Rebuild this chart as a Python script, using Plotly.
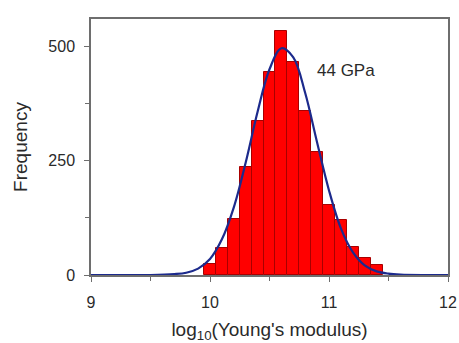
import plotly.graph_objects as go

# Histogram bins (centres, log10 Pa) and counts
bin_centers = [10.0, 10.1, 10.2, 10.3, 10.4, 10.5, 10.6, 10.7, 10.8, 10.9,
               11.0, 11.1, 11.2, 11.3, 11.4]
bin_counts = [25, 60, 122, 236, 336, 443, 533, 465, 358, 268,
              153, 120, 61, 37, 22]
bin_width = 0.1

# Fitted curve
curve_x = [9.0, 9.5, 9.7, 9.8, 9.9, 10.0, 10.1, 10.2, 10.3, 10.4, 10.5, 10.6,
           10.7, 10.8, 10.9, 11.0, 11.1, 11.2, 11.3, 11.4, 11.5, 11.6, 11.8, 12.0]
curve_y = [0, 0, 2, 5, 14, 35, 78, 148, 246, 357, 450, 496,
           476, 398, 290, 185, 102, 50, 21, 8, 3, 1, 0, 0]

annotation_text = "44 GPa"
x_title = "log<sub>10</sub>(Young's modulus)"
y_title = "Frequency"
x_ticks = [9, 10, 11, 12]
y_ticks = [0, 250, 500]

FONT = "Liberation Sans, Arial, sans-serif"
TXT = "#2a2a2a"
AX = "#6e6e6e"

fig = go.Figure()
fig.add_trace(go.Bar(
    x=bin_centers, y=bin_counts, width=bin_width,
    marker=dict(color="#ff0000", line=dict(color="#a80000", width=1)),
    showlegend=False,
))
fig.add_trace(go.Scatter(
    x=curve_x, y=curve_y, mode="lines",
    line=dict(color="#1c2a8c", width=2.2, shape="spline"),
    showlegend=False,
))
fig.add_annotation(x=11.14, y=448, text=annotation_text, showarrow=False,
                   font=dict(family=FONT, size=17, color=TXT))

fig.update_layout(
    width=459, height=343,
    margin=dict(l=91, r=11, t=19, b=68),
    paper_bgcolor="white", plot_bgcolor="white",
    bargap=0,
    font=dict(family=FONT, color=TXT, size=16),
)
fig.update_xaxes(
    range=[9, 12], tickvals=x_ticks, ticktext=[str(v) for v in x_ticks],
    ticks="outside", ticklen=5, tickcolor=AX, ticklabelstandoff=7,
    minor=dict(dtick=0.5, ticks="outside", ticklen=4, tickcolor=AX),
    showline=True, linecolor=AX, linewidth=1.5, mirror=True,
    showgrid=False, zeroline=False, automargin=False,
    tickfont=dict(size=16),
    title=dict(text=x_title, font=dict(size=19), standoff=14),
)
fig.update_yaxes(
    range=[0, 560], tickvals=y_ticks, ticktext=[str(v) for v in y_ticks],
    ticks="outside", ticklen=5, tickcolor=AX, ticklabelstandoff=6,
    minor=dict(dtick=125, ticks="outside", ticklen=4, tickcolor=AX),
    showline=True, linecolor=AX, linewidth=1.5, mirror=True,
    showgrid=False, zeroline=False, automargin=False,
    tickfont=dict(size=16),
    title=dict(text=y_title, font=dict(size=19), standoff=16),
)

fig.write_html(
    "out.html",
    config={"displayModeBar": False},
    post_script="document.body.style.margin='0';document.body.style.padding='0';",
)
